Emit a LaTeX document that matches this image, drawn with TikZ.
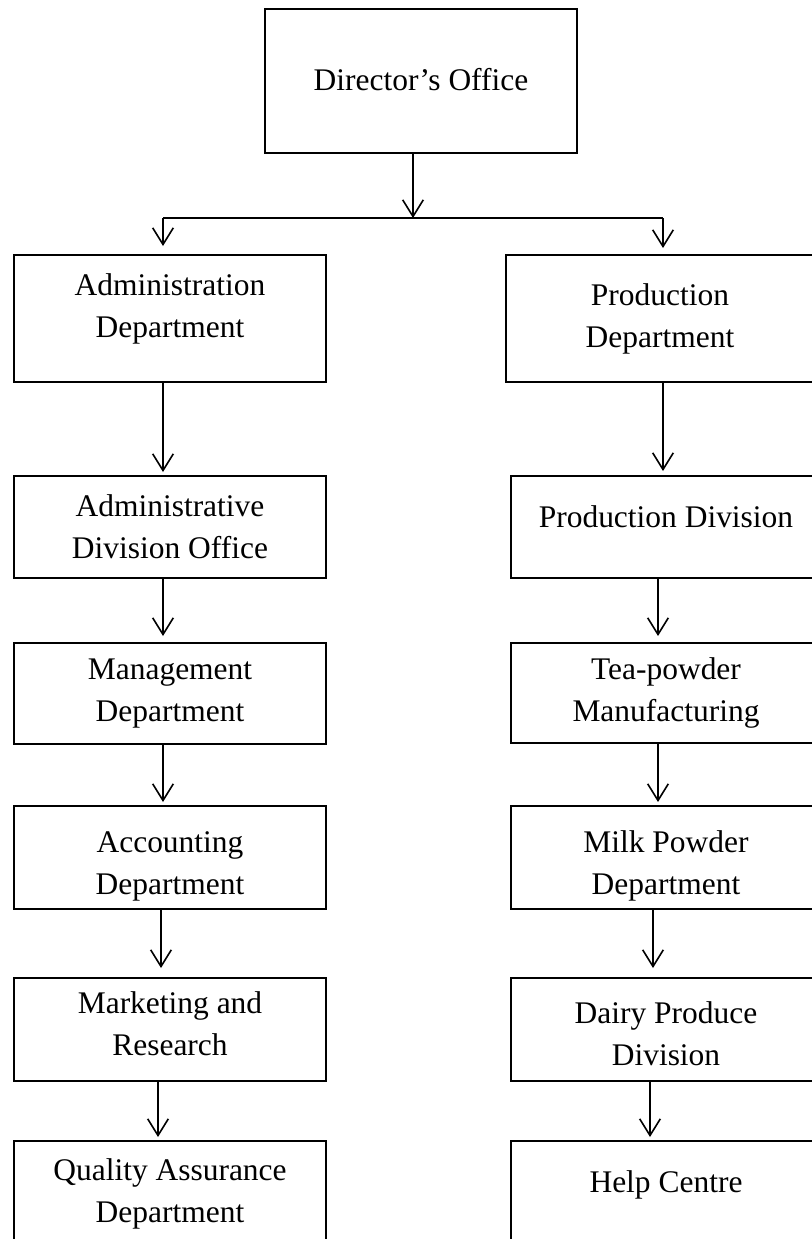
\documentclass[tikz,border=0pt]{standalone}
\usepackage{fontspec}
\setmainfont{Liberation Serif}
\usetikzlibrary{arrows.meta}
\begin{document}
\begin{tikzpicture}[x=0.75pt,y=-0.75pt,
  box/.style={draw=black,line width=1.5pt,rectangle,inner sep=0pt,align=center,
    font=\fontsize{23.6}{31.5}\selectfont},
  arr/.style={draw=black,line width=1.2pt,-{Straight Barb[length=12.5pt,width=15.5pt,line width=1.2pt]}},
  link/.style={draw=black,line width=1.2pt}]
\useasboundingbox (0,0) rectangle (811,1239);
% Director
\node[box,minimum width=234pt,minimum height=108pt] (dir) at (421,81) {Director’s Office\\[-28.5pt]\mbox{}};
% Left column
\node[box,minimum width=234pt,minimum height=95.25pt] (adm) at (170,318.5) {Administration\\Department\\[-11.4pt]\mbox{}};
\node[box,minimum width=234pt,minimum height=76.5pt] (ado) at (170,527) {Administrative\\Division Office};
\node[box,minimum width=234pt,minimum height=75.75pt] (mgt) at (170,693.5) {Management\\Department};
\node[box,minimum width=234pt,minimum height=77.25pt] (acc) at (170,857.5) {\mbox{}\\[-2pt]Accounting\\Department};
\node[box,minimum width=234pt,minimum height=77.25pt] (mkt) at (170,1029.5) {Marketing and\\Research\\[-22.5pt]\mbox{}};
\node[box,minimum width=234pt,minimum height=78.75pt] (qa) at (170,1193.5) {Quality Assurance\\Department};
% Right column
\node[box,minimum width=231pt,minimum height=95.25pt] (prd) at (660,318.5) {Production\\Department};
\node[box,minimum width=232.5pt,minimum height=76.5pt] (pdv) at (666,527) {Production Division\\[-16.5pt]\mbox{}};
\node[box,minimum width=232.5pt,minimum height=75pt] (tea) at (666,693) {Tea-powder\\Manufacturing};
\node[box,minimum width=232.5pt,minimum height=77.25pt] (mlk) at (666,857.5) {\mbox{}\\[-3pt]Milk Powder\\Department};
\node[box,minimum width=232.5pt,minimum height=77.25pt] (dry) at (666,1029.5) {\mbox{}\\[-9pt]Dairy Produce\\Division};
\node[box,minimum width=232.5pt,minimum height=78.75pt] (hlp) at (666,1193.5) {Help Centre\\[-13pt]\mbox{}};
% Junction
\coordinate (jc) at (413,218);
\coordinate (jl) at (163,218);
\coordinate (jr) at (663,218);
\draw[arr] (413,0 |- dir.south) -- (jc);
\draw[link] (jl) -- (jr);
\draw[arr,shorten >=6pt] (jl) -- (jl |- adm.north);
\draw[arr,shorten >=4.5pt] (jr) -- (jr |- prd.north);
% Left chain
\draw[arr,shorten >=2.25pt] (163,0 |- adm.south) -- (163,0 |- ado.north);
\draw[arr,shorten >=4.5pt] (163,0 |- ado.south) -- (163,0 |- mgt.north);
\draw[arr,shorten >=2.25pt] (163,0 |- mgt.south) -- (163,0 |- acc.north);
\draw[arr,shorten >=6.75pt] (161,0 |- acc.south) -- (161,0 |- mkt.north);
\draw[arr,shorten >=2.25pt] (158,0 |- mkt.south) -- (158,0 |- qa.north);
% Right chain
\draw[arr,shorten >=3pt] (663,0 |- prd.south) -- (663,0 |- pdv.north);
\draw[arr,shorten >=4.5pt] (658,0 |- pdv.south) -- (658,0 |- tea.north);
\draw[arr,shorten >=2.25pt] (658,0 |- tea.south) -- (658,0 |- mlk.north);
\draw[arr,shorten >=6.75pt] (653,0 |- mlk.south) -- (653,0 |- dry.north);
\draw[arr,shorten >=2.25pt] (650,0 |- dry.south) -- (650,0 |- hlp.north);
\end{tikzpicture}
\end{document}
